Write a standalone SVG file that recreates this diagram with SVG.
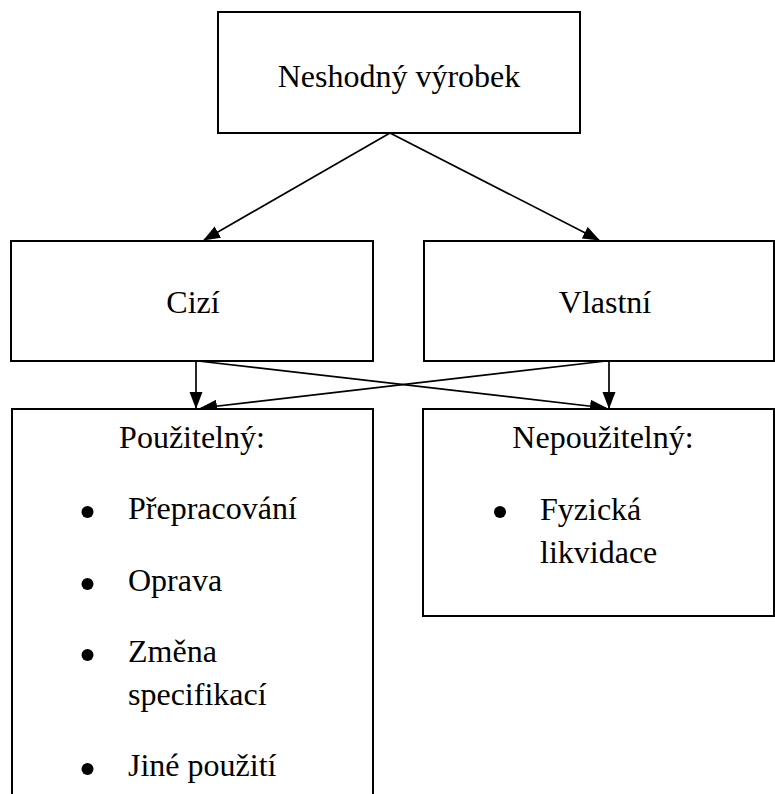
<svg xmlns="http://www.w3.org/2000/svg" width="775" height="794" viewBox="0 0 775 794">
<style>
.box{fill:#fff;stroke:#000;stroke-width:2}
.t{font-family:"Liberation Serif","Times New Roman",serif;font-size:32px;fill:#000}
.c{text-anchor:middle}
.ln{stroke:#000;stroke-width:1.7;fill:none;marker-end:url(#ah)}
</style>
<defs>
<marker id="ah" markerUnits="userSpaceOnUse" markerWidth="17" markerHeight="14" viewBox="0 0 17 14" refX="16" refY="7" orient="auto">
<path d="M0,0.5 L17,7 L0,13.5 z" fill="#000"/>
</marker>
</defs>
<g id="connectors">
<line class="ln" x1="390" y1="133" x2="204" y2="240"/>
<line class="ln" x1="390" y1="133" x2="599" y2="240"/>
<line class="ln" x1="196" y1="361" x2="196" y2="408"/>
<line class="ln" x1="609" y1="361" x2="609" y2="408"/>
<line class="ln" x1="198" y1="361" x2="606" y2="408"/>
<line class="ln" x1="606" y1="361" x2="201" y2="408"/>
</g>
<g id="n-neshodny">
<rect class="box" x="218" y="12" width="362" height="121"/>
<text class="t c" x="399" y="87">Neshodný výrobek</text>
</g>
<g id="n-cizi">
<rect class="box" x="11" y="241" width="362" height="120"/>
<text class="t c" x="193" y="313">Cizí</text>
</g>
<g id="n-vlastni">
<rect class="box" x="424" y="241" width="350" height="120"/>
<text class="t c" x="605" y="313">Vlastní</text>
</g>
<g id="n-pouzitelny">
<rect class="box" x="12" y="409" width="361" height="400"/>
<text class="t c" x="192" y="448">Použitelný:</text>
<circle cx="87.5" cy="512" r="6"/>
<text class="t" x="128" y="519">Přepracování</text>
<circle cx="87.5" cy="584" r="6"/>
<text class="t" x="128" y="591">Oprava</text>
<circle cx="87.5" cy="655" r="6"/>
<text class="t" x="128" y="662">Změna</text>
<text class="t" x="128" y="705">specifikací</text>
<circle cx="87.5" cy="769" r="6"/>
<text class="t" x="128" y="776">Jiné použití</text>
</g>
<g id="n-nepouzitelny">
<rect class="box" x="423" y="409" width="351" height="207"/>
<text class="t c" x="603" y="448">Nepoužitelný:</text>
<circle cx="500" cy="512" r="6"/>
<text class="t" x="540" y="520">Fyzická</text>
<text class="t" x="540" y="563">likvidace</text>
</g>
</svg>
